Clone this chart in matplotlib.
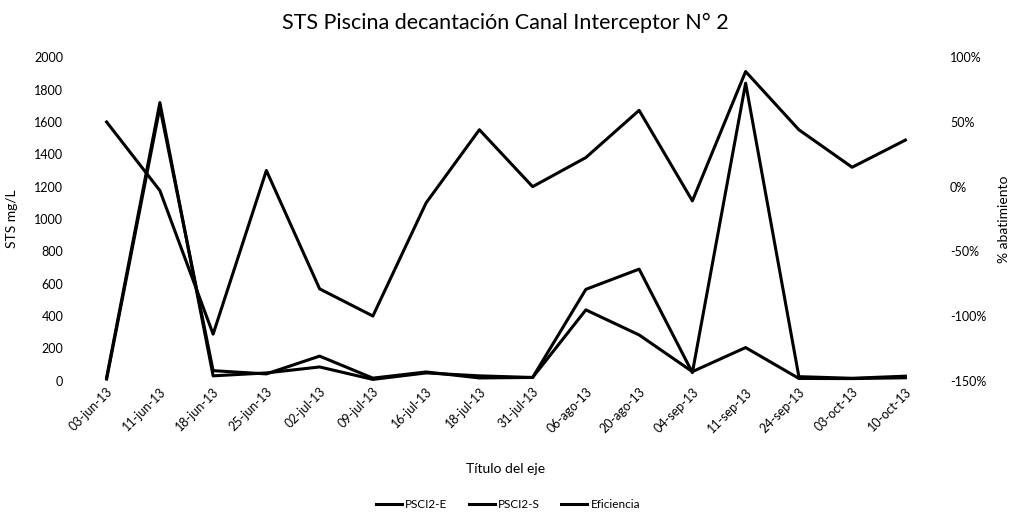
import matplotlib as mpl
from matplotlib import pyplot as plt
import numpy as np

mpl.rcParams['font.family'] = ['Lato', 'DejaVu Sans']

# %% data
fechas = ['03-jun-13', '11-jun-13', '18-jun-13', '25-jun-13', '02-jul-13',
          '09-jul-13', '16-jul-13', '18-jul-13', '31-jul-13', '06-ago-13',
          '20-ago-13', '04-sep-13', '11-sep-13', '24-sep-13', '03-oct-13',
          '10-oct-13']
psci2_e = [20, 1720, 30, 48, 85, 8, 48, 30, 20, 565, 690, 50, 1840, 25, 15, 28]
psci2_s = [10, 1690, 62, 42, 152, 16, 54, 17, 20, 438, 283, 56, 205, 14, 13, 18]
eficiencia = [0.50, -0.03, -1.14, 0.125, -0.79, -1.00, -0.125, 0.44, 0.0,
              0.225, 0.59, -0.11, 0.89, 0.44, 0.15, 0.36]

# %% plot
fig = plt.figure(figsize=(10.1, 5.23), dpi=100)
ax = fig.add_axes([80 / 1010, 1 - 380.7 / 523, 852 / 1010, 323.4 / 523])
ax2 = ax.twinx()

x = np.arange(len(fechas))
l1, = ax.plot(x, psci2_e, color='black', lw=2.2, label='PSCI2-E')
l2, = ax.plot(x, psci2_s, color='black', lw=2.2, label='PSCI2-S')
l3, = ax2.plot(x, eficiencia, color='black', lw=2.2, label='Eficiencia')

ax.set_xlim(-0.5, len(fechas) - 0.5)
ax.set_ylim(0, 2000)
ax.set_yticks(range(0, 2001, 200))
ax2.set_ylim(-1.5, 1.0)
ax2.set_yticks(np.arange(-1.5, 1.01, 0.5))
ax2.set_yticklabels([f'{int(round(v * 100))}%' for v in np.arange(-1.5, 1.01, 0.5)])

ax.set_xticks(x)
ax.set_xticklabels(fechas, rotation=45, ha='right', rotation_mode='anchor', fontsize=9)
for a in (ax, ax2):
    for s in a.spines.values():
        s.set_visible(False)
    a.tick_params(length=0, labelsize=9)
ax.tick_params(axis='y', pad=12)
ax2.tick_params(axis='y', pad=13)

ax.set_ylabel('STS mg/L', fontsize=10)
ax.yaxis.set_label_coords(-0.073, 0.5)
ax2.set_ylabel('% abatimiento', fontsize=10)
ax2.yaxis.set_label_coords(1.078, 0.5)
ax.set_xlabel('Título del eje', fontsize=10, labelpad=20)
fig.suptitle('STS Piscina decantación Canal Interceptor N° 2', fontsize=15.5, y=0.975)

fig.legend(handles=[l1, l2, l3], loc='center', bbox_to_anchor=(0.503, 0.035),
           ncol=3, frameon=False, fontsize=8.5, handlelength=2.2,
           handletextpad=0.3, columnspacing=1.8)

plt.savefig('out.png', dpi=100)
